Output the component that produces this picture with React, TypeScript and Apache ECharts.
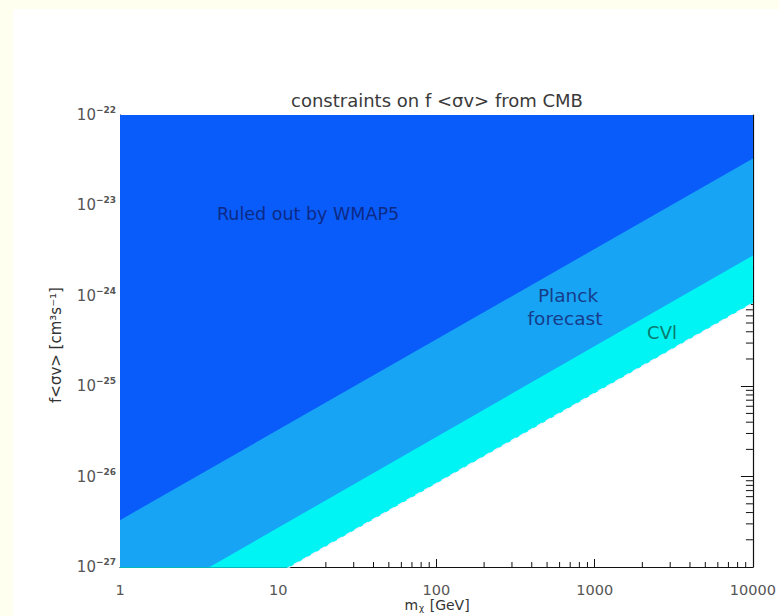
import React, { useEffect, useRef } from "react";
import * as echarts from "echarts";

// ---- data ----
const massRange = [1, 10000]; // m_chi [GeV], ends of each constraint line
const wmap5Limit = [3.3e-27, 3.3e-23]; // f<σv> [cm^3 s^-1], WMAP5 exclusion boundary
const planckLimit = [2.7e-28, 2.8e-24]; // Planck forecast boundary
const cvlLimit = [8.5e-29, 8.3e-25]; // cosmic-variance-limited boundary
const xTickLabels = ["1", "10", "100", "1000", "10000"];
const xMin = 1;
const xMax = 10000;
const yMin = 1e-27;
const yMax = 1e-22;
const minorMultipliers = [2, 3, 4, 5, 6, 7, 8, 9];
const xDecades = [1, 10, 100, 1000];
const yDecades = [1e-27, 1e-26, 1e-25, 1e-24, 1e-23];

// y values are plotted in units of 1e-27 cm^3/s (log axis precision)
const Y_UNIT = 1e-27;
const Y_UNIT_EXP = -27;
const toUnit = (v: number) => v / Y_UNIT;

const FONT = "DejaVu Sans";

export default function App() {
  const ref = useRef<HTMLDivElement>(null);
  useEffect(() => {
    if (!ref.current) return;
    const chart = echarts.init(ref.current, undefined, { renderer: "svg" });

    const band = (name: string, vals: number[], color: string, z: number, lineStyle: any) => ({
      type: "line",
      name,
      data: massRange.map((m, i) => [m, toUnit(vals[i])]),
      symbol: "none",
      silent: true,
      z,
      lineStyle,
      areaStyle: { color, opacity: 1, origin: "end" },
    });

    const xMinor: number[][] = [];
    xDecades.forEach((d) => minorMultipliers.forEach((k) => xMinor.push([k * d, toUnit(yMin)])));
    const yMinor: number[][] = [];
    yDecades.forEach((d) => minorMultipliers.forEach((k) => yMinor.push([xMax, toUnit(k * d)])));

    const tickSeries = (data: number[][], dx: number, dy: number) => ({
      type: "custom",
      coordinateSystem: "cartesian2d",
      silent: true,
      clip: false,
      z: 1,
      data,
      renderItem: (params: any, api: any) => {
        const p = api.coord([api.value(0), api.value(1)]);
        return {
          type: "line",
          shape: { x1: p[0], y1: p[1], x2: p[0] + dx, y2: p[1] + dy },
          style: { stroke: "#111", lineWidth: 1 },
        };
      },
    });

    const yExp = (v: number) => Math.round(Math.log10(v)) + Y_UNIT_EXP;

    const option: any = {
      animation: false,
      backgroundColor: "#ffffff",
      grid: { left: 120, right: 21, top: 115, bottom: 49, containLabel: false },
      xAxis: {
        type: "log",
        logBase: 10,
        min: xMin,
        max: xMax,
        splitLine: { show: false },
        axisLine: { lineStyle: { color: "#111", width: 1.2 } },
        axisTick: { inside: true, length: 8, lineStyle: { color: "#111" } },
        axisLabel: {
          margin: 15,
          color: "#555",
          fontFamily: FONT,
          fontSize: 14.5,
          formatter: (v: number) => xTickLabels[Math.round(Math.log10(v))],
        },
      },
      yAxis: [
        {
          type: "log",
          logBase: 10,
          min: toUnit(yMin),
          max: toUnit(yMax),
          splitLine: { show: false },
          axisLine: { show: true, lineStyle: { color: "#111" } },
          axisTick: { show: false },
          axisLabel: {
            margin: 4,
            formatter: (v: number) => `{b|10}{s|−${-yExp(v)}}`,
            rich: {
              b: { fontFamily: FONT, fontSize: 15, color: "#555" },
              s: { fontFamily: FONT, fontSize: 9, color: "#555", fontWeight: "bold", padding: [0, 0, 10, 0] },
            },
          },
        },
        {
          type: "log",
          logBase: 10,
          min: toUnit(yMin),
          max: toUnit(yMax),
          position: "right",
          splitLine: { show: false },
          axisLine: { show: true, lineStyle: { color: "#111", width: 1.2 } },
          axisTick: { inside: true, length: 12, lineStyle: { color: "#111" } },
          axisLabel: { show: false },
        },
      ],
      series: [
        band("CVL", cvlLimit, "#00f4f4", 2, { color: "#f4f0ff", width: 1.5, type: [6, 4] }),
        band("Planck", planckLimit, "#18a4f5", 3, { width: 0 }),
        band("WMAP5", wmap5Limit, "#0a5cfa", 4, { width: 0 }),
        tickSeries(xMinor, 0, -5),
        tickSeries(yMinor, -7, 0),
      ],
      graphic: [
        { type: "rect", left: 0, top: 0, shape: { width: 13, height: 616 }, style: { fill: "#fffff0" }, silent: true },
        { type: "rect", left: 0, top: 0, shape: { width: 779, height: 9 }, style: { fill: "#fffff0" }, silent: true },
        {
          type: "text",
          x: 437,
          y: 100,
          style: {
            text: "constraints on f <σv> from CMB",
            fontFamily: FONT,
            fontSize: 18,
            fill: "#3a3a3a",
            align: "center",
            verticalAlign: "middle",
          },
        },
        {
          type: "text",
          x: 217,
          y: 214,
          z: 10,
          style: {
            text: "Ruled out by WMAP5",
            fontFamily: FONT,
            fontSize: 17.5,
            fill: "#0c2a86",
            align: "left",
            verticalAlign: "middle",
          },
        },
        {
          type: "text",
          x: 568,
          y: 295,
          z: 10,
          style: {
            text: "Planck",
            fontFamily: FONT,
            fontSize: 18.5,
            fill: "#163c8a",
            align: "center",
            verticalAlign: "middle",
          },
        },
        {
          type: "text",
          x: 565,
          y: 318,
          z: 10,
          style: {
            text: "forecast",
            fontFamily: FONT,
            fontSize: 18.5,
            fill: "#163c8a",
            align: "center",
            verticalAlign: "middle",
          },
        },
        {
          type: "text",
          x: 662,
          y: 332,
          z: 10,
          style: {
            text: "CVl",
            fontFamily: FONT,
            fontSize: 18,
            fill: "#0b7a6e",
            align: "center",
            verticalAlign: "middle",
          },
        },
        {
          type: "text",
          x: 56,
          y: 345,
          rotation: Math.PI / 2,
          style: {
            text: "f<σv> [cm³s⁻¹]",
            fontFamily: FONT,
            fontSize: 15,
            fill: "#333",
            align: "center",
            verticalAlign: "middle",
          },
        },
        {
          type: "text",
          x: 437,
          y: 605,
          style: {
            text: "{m|m}{c|χ}{m| [GeV]}",
            align: "center",
            verticalAlign: "middle",
            rich: {
              m: { fontFamily: FONT, fontSize: 14, fill: "#333" },
              c: { fontFamily: FONT, fontSize: 9, fill: "#333", padding: [6, 1, 0, 1] },
            },
          },
        },
      ],
    };
    chart.setOption(option);
    return () => chart.dispose();
  }, []);
  return (
    <div style={{ position: "absolute", left: 0, top: 0, width: 779, height: 616, background: "#fff" }}>
      <div ref={ref} style={{ width: 779, height: 616 }} />
    </div>
  );
}
